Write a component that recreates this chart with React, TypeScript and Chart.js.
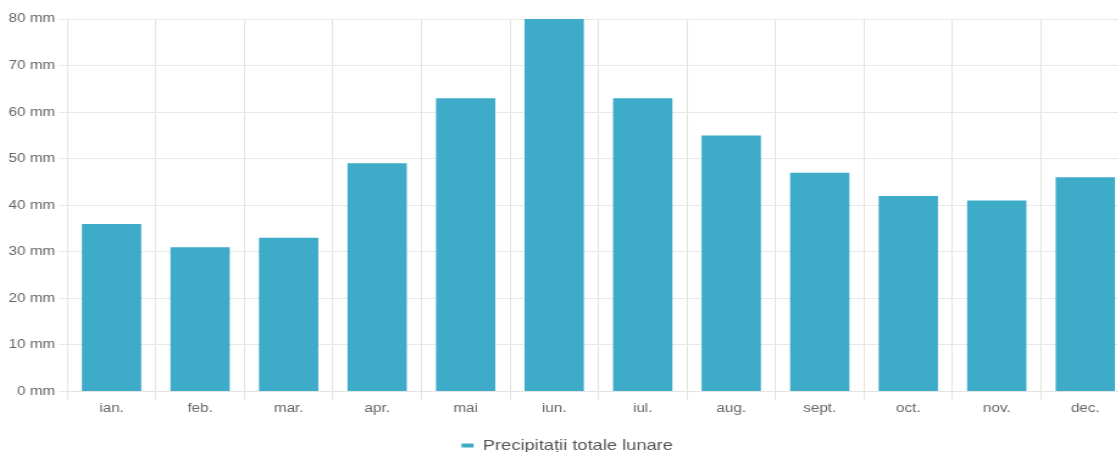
import React, { useEffect, useRef } from "react";
import { Chart, registerables } from "chart.js";

Chart.register(...registerables);

const categories = ["ian.", "feb.", "mar.", "apr.", "mai", "iun.", "iul.", "aug.", "sept.", "oct.", "nov.", "dec."];
const precipitation = [36, 31, 33, 49, 63, 80, 63, 55, 47, 42, 41, 46];
const seriesLabel = "Precipitații totale lunare";
const yMin = 0;
const yMax = 80;
const yStep = 10;
const unit = " mm";

const FONT = "'Liberation Sans', Arial, sans-serif";
const STRETCH = 1.22;
const CW = 928;
const CH = 463;

export default function App() {
  const ref = useRef<HTMLCanvasElement>(null);
  useEffect(() => {
    if (!ref.current) return;
    const chart = new Chart(ref.current, {
      type: "bar",
      data: {
        labels: categories,
        datasets: [
          {
            label: seriesLabel,
            data: precipitation,
            backgroundColor: "#3eabc8",
            borderWidth: 0,
            categoryPercentage: 1,
            barPercentage: 0.67,
          },
        ],
      },
      options: {
        animation: false,
        responsive: false,
        maintainAspectRatio: false,
        devicePixelRatio: 1,
        layout: { padding: { top: 19, left: 4, right: 2, bottom: 0 } },
        plugins: {
          tooltip: { enabled: false },
          legend: {
            position: "bottom",
            labels: {
              color: "#555",
              font: { family: FONT, size: 15 },
              boxWidth: 10,
              boxHeight: 4,
              padding: 19.5,
            },
          },
        },
        scales: {
          x: {
            grid: { color: "#e3e3e3", tickLength: 8, offset: true },
            border: { color: "#e3e3e3" },
            ticks: { color: "#666", font: { family: FONT, size: 12.5 }, padding: 2 },
          },
          y: {
            min: yMin,
            max: yMax,
            grid: { color: "#e8e8e8", tickLength: 7 },
            border: { color: "#e3e3e3" },
            ticks: {
              stepSize: yStep,
              color: "#666",
              padding: 3,
              font: { family: FONT, size: 12.5 },
              callback: (v: any) => v + unit,
            },
          },
        },
      },
    });
    return () => chart.destroy();
  }, []);
  return (
    <div style={{ position: "fixed", left: 0, top: 0, width: 1118, height: 452, overflow: "hidden", background: "#fff" }}>
      <canvas
        ref={ref}
        width={CW}
        height={CH}
        style={{ display: "block", width: CW * STRETCH, height: CH }}
      />
    </div>
  );
}
